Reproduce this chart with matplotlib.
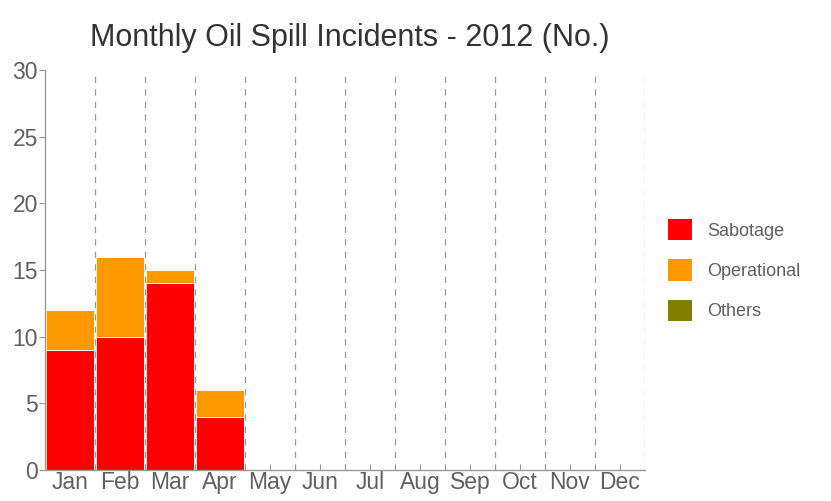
import matplotlib.pyplot as plt
from matplotlib.patches import Patch

plt.rcParams['font.family'] = ['Liberation Sans', 'DejaVu Sans']

meses = ['Jan', 'Feb', 'Mar', 'Apr', 'May', 'Jun', 'Jul', 'Aug', 'Sep', 'Oct', 'Nov', 'Dec']
sabotage = [9, 10, 14, 4, 0, 0, 0, 0, 0, 0, 0, 0]
operational = [3, 6, 1, 2, 0, 0, 0, 0, 0, 0, 0, 0]
others = [0, 0, 0, 0, 0, 0, 0, 0, 0, 0, 0, 0]

colores = ['#ff0000', '#ff9900', '#808000']
etiquetas = ['Sabotage', 'Operational', 'Others']
gris = '#606060'

fig = plt.figure(figsize=(8.31, 5.01), dpi=100)
ax = fig.add_axes([0.054, 0.062, 0.722, 0.798])

x = list(range(len(meses)))
base = [0] * len(meses)
for serie, color in zip([sabotage, operational, others], colores):
    ax.bar(x, serie, bottom=base, width=0.96, color=color, edgecolor='white', linewidth=0.6, zorder=2)
    base = [b + s for b, s in zip(base, serie)]

# lineas verticales punteadas entre meses
for i in x:
    ax.axvline(i + 0.5, color='#999999', linestyle=(0, (5, 5)), linewidth=0.9, zorder=1)

ax.set_xlim(-0.5, 11.5)
ax.set_ylim(0, 30)
ax.set_yticks([0, 5, 10, 15, 20, 25, 30])
ax.set_xticks(x)
ax.set_xticklabels(meses)

for lado in ['top', 'right']:
    ax.spines[lado].set_visible(False)
for lado in ['left', 'bottom']:
    ax.spines[lado].set_color('#999999')
    ax.spines[lado].set_linewidth(1)

ax.tick_params(axis='y', colors='#999999', labelcolor=gris, labelsize=16.5, length=4, pad=1)
ax.tick_params(axis='x', colors='#999999', labelcolor=gris, labelsize=16.5, length=4, direction='in', pad=1)

fig.text(0.421, 0.924, 'Monthly Oil Spill Incidents - 2012 (No.)', ha='center', va='center',
         fontsize=22, color='#333333')

handles = [Patch(facecolor=c, edgecolor='none') for c in colores]
leg = fig.legend(handles, etiquetas, loc='center left', bbox_to_anchor=(0.784, 0.461),
                 frameon=False, fontsize=13, handlelength=1.35, handleheight=1.45,
                 labelspacing=1.05, handletextpad=0.85)
for t in leg.get_texts():
    t.set_color(gris)

fig.savefig('out.png', dpi=100)
